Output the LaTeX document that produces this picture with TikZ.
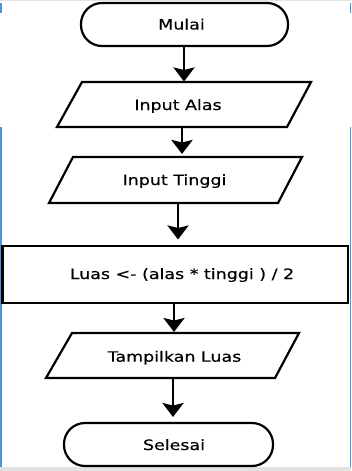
\documentclass[tikz,border=0pt]{standalone}
\usepackage{fontspec}
\setmainfont{DejaVu Sans}[FakeStretch=1.22,FakeBold=0.4]
\usetikzlibrary{arrows.meta}
\definecolor{winblue}{RGB}{74,150,222}
\definecolor{wingray}{RGB}{226,226,226}
\tikzset{
  shapeline/.style={draw=black, line width=2.2pt, line join=miter},
  term/.style={shapeline, rounded corners=21pt},
  txt/.style={anchor=base, inner sep=0pt, font=\fontsize{14.3}{16}\selectfont},
  arr/.style={line width=2.8pt, -{Stealth[width=21pt,length=14pt,inset=2.5pt]}}
}
\begin{document}
\begin{tikzpicture}[x=1pt,y=-1pt]
\useasboundingbox (0,0) rectangle (351,471);
\fill[white] (0,0) rectangle (351,471);
% window frame artefacts
\fill[wingray] (0,0) rectangle (351,1);
\fill[wingray] (0,467) rectangle (351,471);
\fill[winblue] (0,3) rectangle (1.5,13);
\fill[winblue] (0,127) rectangle (1.5,467);
\fill[winblue] (349.5,3) rectangle (351,13);
\fill[winblue] (349.5,127) rectangle (351,467);
% shapes
\draw[term] (81,3) rectangle (288,46);
\node[txt] (mulai) at (181.5,29.5) {Mulai};
\draw[shapeline] (82,82) -- (311,82) -- (287,127) -- (57,127) -- cycle;
\node[txt] (alas) at (178,110) {Input Alas};
\draw[shapeline] (73,157) -- (302,157) -- (278,203) -- (49,203) -- cycle;
\node[txt] (tinggi) at (174.5,185) {Input Tinggi};
\draw[shapeline] (2.5,246) rectangle (348,303);
\node[txt] (luas) at (182,279) {Luas <- (alas * tinggi ) / 2};
\draw[shapeline] (72,333) -- (299,333) -- (275,378) -- (46,378) -- cycle;
\node[txt] (tampil) at (174.5,361.7) {Tampilkan Luas};
\draw[term] (64,423) rectangle (273,466);
\node[txt] (selesai) at (174,450) {Selesai};
% connector ends
\coordinate (a1s) at (184,46);  \coordinate (a1e) at (184,81.5);
\coordinate (a2s) at (182,127); \coordinate (a2e) at (182,154);
\coordinate (a3s) at (178,203); \coordinate (a3e) at (178,239.5);
\coordinate (a4s) at (174,303); \coordinate (a4e) at (174,332);
\coordinate (a5s) at (173,378); \coordinate (a5e) at (173,417);
\draw[arr] (a1s) -- (a1e);
\draw[arr] (a2s) -- (a2e);
\draw[arr] (a3s) -- (a3e);
\draw[arr] (a4s) -- (a4e);
\draw[arr] (a5s) -- (a5e);
\end{tikzpicture}
\end{document}
